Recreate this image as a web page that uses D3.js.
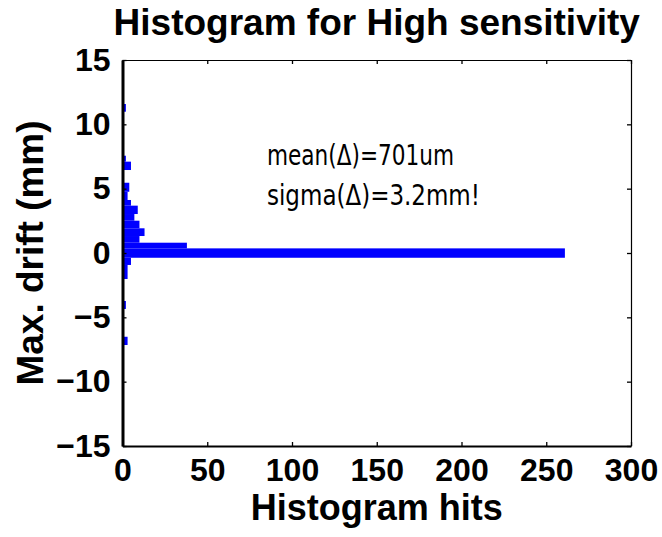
<!DOCTYPE html>
<html>
<head>
<meta charset="utf-8">
<script src="https://cdn.jsdelivr.net/npm/d3@7"></script>
<style>
  body { margin: 0; background: #fff; }
  text { font-family: "Liberation Sans", Arial, sans-serif; font-weight: bold; }
</style>
</head>
<body>
<div id="graph"></div>
<script>
// histogram bins (drift in mm) and hit counts
var binLo  = [10.98, 7.10, 6.45, 4.76, 4.12, 3.68, 3.03, 2.51, 1.92, 1.32, 0.80, 0.36, -0.37, -0.93, -2.02, -4.35, -7.15];
var binHi  = [11.58, 7.56, 7.10, 5.46, 4.76, 4.12, 3.68, 3.03, 2.51, 1.92, 1.32, 0.80, 0.36, -0.37, -0.93, -3.73, -6.51];
var counts = [2, 2, 5, 4, 3, 5, 9, 7, 10, 13, 10, 38, 261, 5, 3, 2, 3];
var xTicks = [0, 50, 100, 150, 200, 250, 300];
var yTicks = [-15, -10, -5, 0, 5, 10, 15];

var width = 662, height = 537;
var margin = {top: 60, right: 31, bottom: 91, left: 122.5};
var w = width - margin.left - margin.right;
var h = height - margin.top - margin.bottom;

var x = d3.scaleLinear().domain([0, 300]).range([0, w]);
var y = d3.scaleLinear().domain([-15, 15]).range([h, 0]);

var svg = d3.select("#graph").append("svg")
    .attr("width", width)
    .attr("height", height);
var g = svg.append("g")
    .attr("transform", "translate(" + margin.left + "," + margin.top + ")");

var bins = counts.map(function(c, i) { return {lo: binLo[i], hi: binHi[i], n: c}; });

g.selectAll(".bar")
    .data(bins)
  .enter().append("rect")
    .attr("class", "bar")
    .attr("x", x(0))
    .attr("y", function(d) { return y(d.hi); })
    .attr("width", function(d) { return x(d.n) - x(0); })
    .attr("height", function(d) { return y(d.lo) - y(d.hi); })
    .style("fill", "#0000ff");

// box-style axes, ticks pointing inward on every side
var tk = 4;
var axBottom = g.append("g")
    .attr("transform", "translate(0," + h + ")")
    .call(d3.axisBottom(x).tickValues(xTicks).tickSizeInner(-tk).tickSizeOuter(0).tickPadding(12));
var axTop = g.append("g")
    .call(d3.axisTop(x).tickValues(xTicks).tickSizeInner(-tk).tickSizeOuter(0).tickFormat(""));
var axLeft = g.append("g")
    .call(d3.axisLeft(y).tickValues(yTicks).tickSizeInner(-tk).tickSizeOuter(0).tickPadding(12));
var axRight = g.append("g")
    .attr("transform", "translate(" + w + ",0)")
    .call(d3.axisRight(y).tickValues(yTicks).tickSizeInner(-tk).tickSizeOuter(0).tickFormat(""));

[axBottom, axTop, axLeft, axRight].forEach(function(a) {
  a.selectAll("line").style("stroke", "#000").style("stroke-width", 1.3);
  a.select(".domain").style("stroke", "#000");
  a.selectAll("text").style("font-size", "32px").style("fill", "#000");
});
axLeft.select(".domain").style("stroke-width", 3);
axBottom.select(".domain").style("stroke-width", 2);
axTop.select(".domain").style("stroke-width", 1.2);
axRight.select(".domain").style("stroke-width", 1.2);

svg.append("text")
    .attr("x", margin.left + w / 2)
    .attr("y", 35)
    .attr("text-anchor", "middle")
    .style("font-size", "37px")
    .text("Histogram for High sensitivity");

svg.append("text")
    .attr("x", margin.left + w / 2)
    .attr("y", 520)
    .attr("text-anchor", "middle")
    .style("font-size", "36px")
    .text("Histogram hits");

svg.append("text")
    .attr("transform", "translate(43," + (margin.top + h / 2) + ") rotate(-90)")
    .attr("text-anchor", "middle")
    .style("font-size", "37px")
    .text("Max. drift (mm)");

var notes = [["mean(\u0394)=701um", 165, 187], ["sigma(\u0394)=3.2mm!", 205, 213]];
svg.selectAll(".note")
    .data(notes)
  .enter().append("text")
    .attr("class", "note")
    .attr("x", 267)
    .attr("y", function(d) { return d[1]; })
    .attr("textLength", function(d) { return d[2]; })
    .attr("lengthAdjust", "spacingAndGlyphs")
    .style("font-family", "'DejaVu Sans Condensed', 'DejaVu Sans', sans-serif")
    .style("font-weight", "normal")
    .style("font-size", "29px")
    .text(function(d) { return d[0]; });
</script>
</body>
</html>
